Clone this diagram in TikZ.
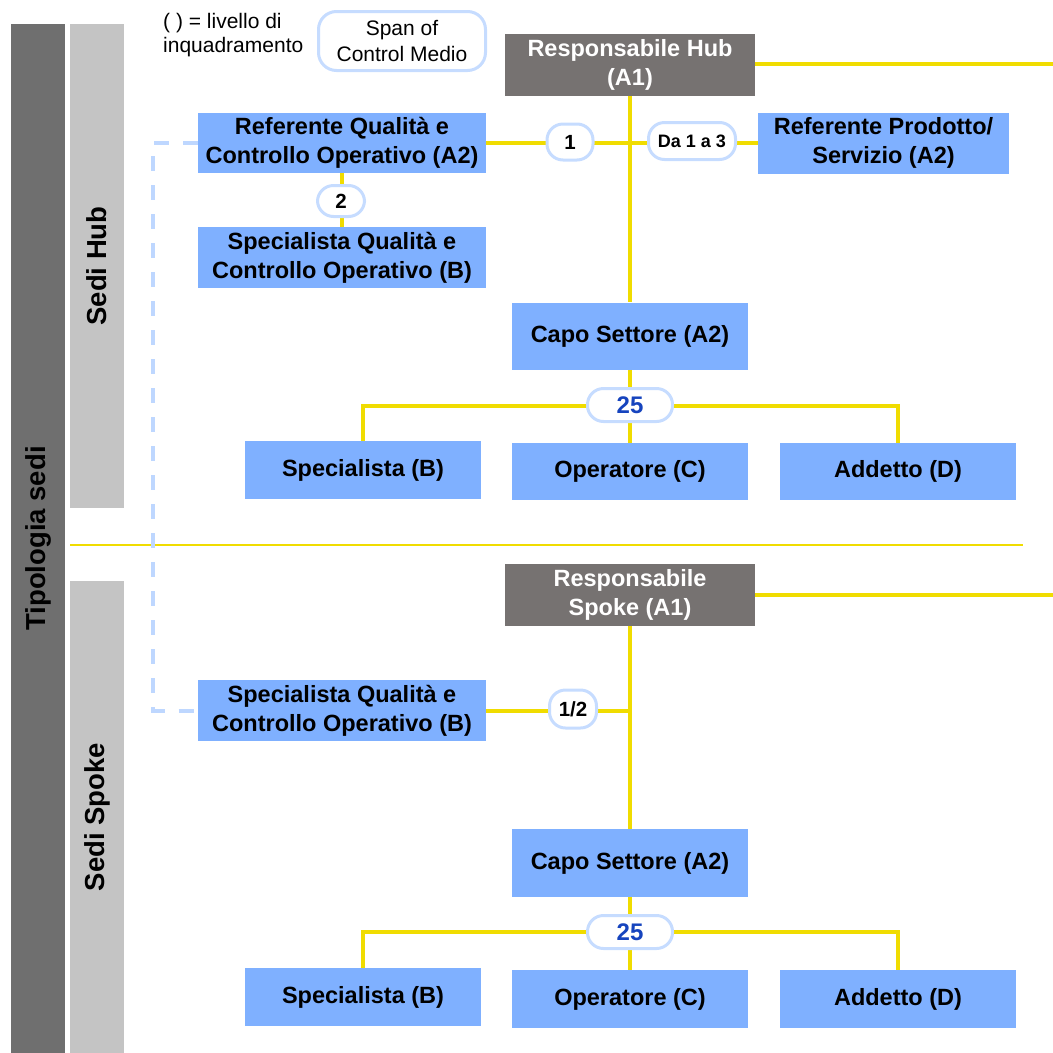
\documentclass[tikz,border=0pt]{standalone}
\usepackage{fontspec}
\setmainfont{Liberation Sans}

\definecolor{boxblue}{RGB}{127,176,255}
\definecolor{hubgray}{RGB}{118,114,113}
\definecolor{bardark}{RGB}{111,111,111}
\definecolor{barlight}{RGB}{196,196,196}
\definecolor{lineyellow}{RGB}{240,220,0}
\definecolor{badgeblue}{RGB}{198,220,255}
\definecolor{dashblue}{RGB}{190,215,255}
\definecolor{numblue}{RGB}{22,68,190}

\begin{document}
\begin{tikzpicture}[
            x = 1pt, y = -1pt, % one unit = one pixel, y downwards
            link/.style = {draw = lineyellow, line width = 4pt},
            thin link/.style = {draw = lineyellow, line width = 2pt},
            dash link/.style = {draw = dashblue, line width = 4pt, dash pattern = on 15pt off 14pt}
        ]

        \tikzstyle{box}=[
            fill = boxblue,
            text = black,
            inner sep = 0pt,
            align = center,
            font = \fontsize{23.5}{29}\selectfont\bfseries
        ]
        \tikzstyle{head box}=[box, fill = hubgray, text = white]
        \tikzstyle{side bar}=[
            inner sep = 0pt,
            rotate = 90,
            minimum height = 54pt,
            font = \fontsize{27.5}{33}\selectfont\bfseries
        ]
        \tikzstyle{badge}=[
            draw = badgeblue,
            line width = 3pt,
            fill = white,
            rounded corners = 16pt,
            inner sep = 0pt,
            align = center,
            font = \fontsize{20.5}{24}\selectfont\bfseries
        ]

        \useasboundingbox (0,0) rectangle (1053,1053);

        % side labels
        \node (tipo) [side bar, fill = bardark, minimum width = 1029pt] at (38,538.5) {Tipologia sedi};
        \node (hubbar) [side bar, fill = barlight, minimum width = 484pt] at (97,266) {Sedi Hub};
        \node (spokebar) [side bar, fill = barlight, minimum width = 472pt] at (97,817) {Sedi Spoke};

        % legend
        \node (legend) [anchor = north west, inner sep = 0pt, align = left, font = \fontsize{21}{24}\selectfont] at (163,13) {( ) = livello di\\inquadramento};
        \node (span) [badge, rounded corners = 18pt, minimum width = 167pt, minimum height = 59pt, font = \fontsize{21}{26}\selectfont] at (402,41) {Span of\\Control Medio};

        % sedi hub
        \node (hub) [head box, minimum width = 250pt, minimum height = 62pt] at (630,65) {Responsabile Hub\\(A1)};
        \node (refq) [box, minimum width = 288pt, minimum height = 60pt] at (342,143) {Referente Qualità e\\Controllo Operativo (A2)};
        \node (refp) [box, minimum width = 251pt, minimum height = 61pt] at (883.5,143) {Referente Prodotto/\\Servizio (A2)};
        \node (specq) [box, minimum width = 288pt, minimum height = 61pt] at (342,257.5) {Specialista Qualità e\\Controllo Operativo (B)};
        \node (capo) [box, minimum width = 236pt, minimum height = 67pt] at (630,336) {Capo Settore (A2)};
        \node (spec) [box, minimum width = 236pt, minimum height = 58pt] at (363,470) {Specialista (B)};
        \node (oper) [box, minimum width = 236pt, minimum height = 57pt] at (630,471.5) {Operatore (C)};
        \node (add) [box, minimum width = 236pt, minimum height = 57pt] at (898,471.5) {Addetto (D)};

        % sedi spoke
        \node (spoke) [head box, minimum width = 250pt, minimum height = 62pt] at (630,595) {Responsabile\\Spoke (A1)};
        \node (specqs) [box, minimum width = 288pt, minimum height = 61pt] at (342,710.5) {Specialista Qualità e\\Controllo Operativo (B)};
        \node (capos) [box, minimum width = 236pt, minimum height = 68pt] at (630,863) {Capo Settore (A2)};
        \node (specs) [box, minimum width = 236pt, minimum height = 58pt] at (363,997) {Specialista (B)};
        \node (opers) [box, minimum width = 236pt, minimum height = 58pt] at (630,999) {Operatore (C)};
        \node (adds) [box, minimum width = 236pt, minimum height = 58pt] at (898,999) {Addetto (D)};

        \coordinate (hubend) at (1053,64);
        \coordinate (spokeend) at (1053,595);
        \coordinate (sepl) at (70,545);
        \coordinate (sepr) at (1023,545);
        \coordinate (dashturn) at (153,143);

        \draw[thin link] (sepl) -- (sepr);
        \draw[dash link] (refq.west) -- (dashturn) |- (specqs.west);

        \draw[link] (hub.east |- hubend) -- (hubend);
        \draw[link] (hub) -- (capo);
        \draw[link] (refq.east) -- (refp.west);
        \draw[link] (refq) -- (specq);
        \draw[link] (capo) -- (oper);
        \draw[link] (spec.north) -- ++(0,-35) -| (add.north);

        \draw[link] (spoke.east) -- (spokeend);
        \draw[link] (spoke) -- (capos);
        \draw[link] (specqs.east) -- (specqs.east -| spoke.south);
        \draw[link] (capos) -- (opers);
        \draw[link] (specs.north) -- ++(0,-36) -| (adds.north);

        % span of control badges
        \node (one) [badge, minimum width = 46pt, minimum height = 36pt] at (570,142) {1};
        \node (onethree) [badge, minimum width = 87pt, minimum height = 37pt, font = \fontsize{18}{22}\selectfont\bfseries] at (692,141) {Da 1 a 3};
        \node (two) [badge, minimum width = 47pt, minimum height = 31pt] at (341,201) {2};
        \node (spanhub) [badge, minimum width = 85pt, minimum height = 33pt, text = numblue, font = \fontsize{24}{28}\selectfont\bfseries] at (630,405) {25};
        \node (half) [badge, minimum width = 47pt, minimum height = 38pt] at (573,709) {1/2};
        \node (spanspoke) [badge, minimum width = 85pt, minimum height = 33pt, text = numblue, font = \fontsize{24}{28}\selectfont\bfseries] at (630,932) {25};

    \end{tikzpicture}
\end{document}
